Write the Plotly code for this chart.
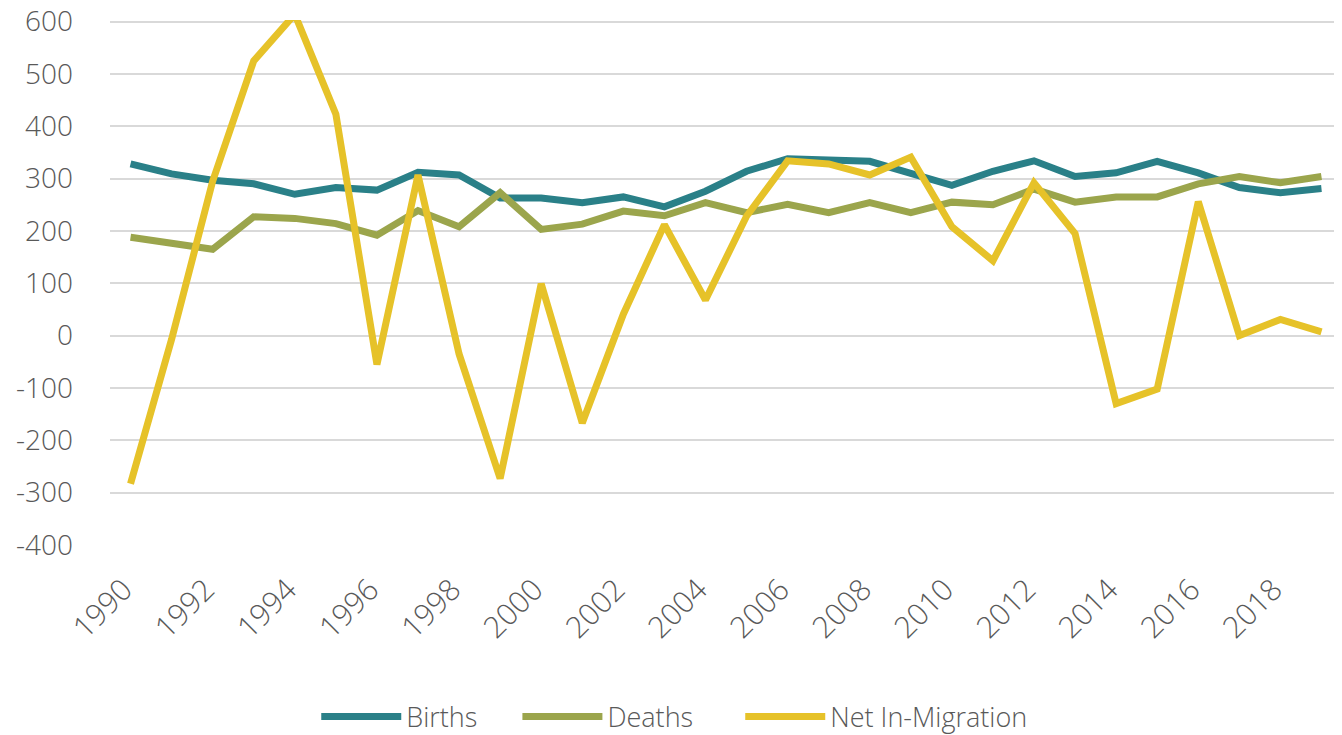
import plotly.graph_objects as go

years = list(range(1990, 2020))
births = [328, 309, 297, 290, 270, 283, 278, 312, 307, 263, 263, 254, 265, 246, 276,
          314, 338, 334, 333, 310, 287, 314, 334, 304, 311, 333, 311, 283, 273, 281]
deaths = [188, 177, 165, 227, 224, 214, 192, 239, 208, 273, 203, 213, 238, 229, 254,
          235, 251, 235, 254, 235, 255, 250, 280, 255, 265, 265, 290, 304, 292, 304]
net_migration = [-283, -7, 295, 525, 614, 423, -55, 307, -35, -273, 99, -167, 41, 212, 68,
                 228, 334, 328, 307, 341, 208, 143, 292, 195, -130, -102, 256, 0, 31, 7]
tick_years = list(range(1990, 2020, 2))
y_ticks = list(range(-400, 700, 100))
y_ticktext = [str(v) for v in y_ticks]

series = [("Births", births, "#2A8088"), ("Deaths", deaths, "#9BA54C"),
          ("Net In-Migration", net_migration, "#E6C229")]
pads = [5, 6, 0]

fig = go.Figure()
for (name, vals, color), p in zip(series, pads):
    fig.add_trace(go.Scatter(x=years, y=vals, name=name + "\u00a0" * p, mode="lines",
                             line=dict(color=color, width=7)))

font_family = "'Open Sans', Lato, sans-serif"
x_tick_font = dict(family=font_family, size=30, color="#595959", weight=300)
y_tick_font = dict(family=font_family, size=28, color="#595959", weight=300)
fig.update_layout(
    width=1334, height=727,
    margin=dict(l=102, r=0, t=12, b=190),
    plot_bgcolor="white", paper_bgcolor="white",
    font=dict(family=font_family, color="#595959", size=27, weight=300),
    showlegend=True,
    legend=dict(orientation="h", x=0.458, xanchor="center",
                yref="container", y=0.025, yanchor="middle",
                font=dict(family=font_family, size=27, color="#595959", weight=300),
                itemwidth=80),
    xaxis=dict(range=[1989.5, 2019.5], tickmode="array", tickvals=tick_years,
               ticktext=[str(t) for t in tick_years], tickangle=-45,
               showgrid=False, zeroline=False, showline=False, automargin=False,
               ticklabelstandoff=20, ticklabelshift=-7, tickfont=x_tick_font,
               ticklabeloverflow="allow"),
    yaxis=dict(range=[-400, 603], tickmode="array", tickvals=y_ticks, ticktext=y_ticktext,
               showgrid=True, gridcolor="#D9D9D9", gridwidth=2, zeroline=False,
               showline=False, automargin=False, ticklabeloverflow="allow",
               tickfont=y_tick_font, ticklabelstandoff=36),
)
fig.write_html("out.html")
